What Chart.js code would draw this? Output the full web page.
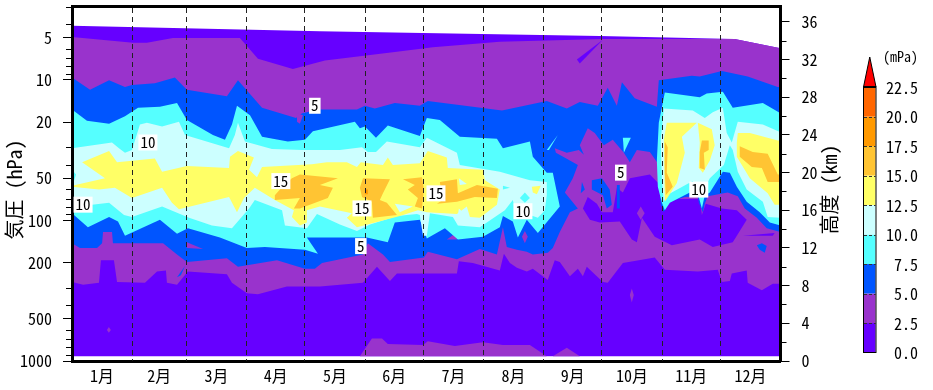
<!DOCTYPE html>
<html lang="ja"><head><meta charset="utf-8">
<style>html,body{margin:0;padding:0;background:#fff}canvas{display:block}</style>
<script src="https://cdn.jsdelivr.net/npm/chart.js@4"></script></head>
<body><canvas id="c" width="933" height="390"></canvas>
<script>
// values: every contour polygon is [day of year, height km]
const monthLabels=['1月','2月','3月','4月','5月','6月','7月','8月','9月','10月','11月','12月'];
const monthMiddles=[15.5,45,74.5,105,135.5,166,196.5,227.5,258,288.5,319,349.5];
const monthEnds=[31,59,90,120,151,181,212,243,273,304,334];
const pressureTicks=[1000,500,200,100,50,20,10,5];
const pressureMinor=[900,800,700,600,400,300,90,80,70,60,40,30,9,8,7,6,4,3];
const heightTicks=[0,4,8,12,16,20,24,28,32,36];
const heightMinor=[2,6,10,14,18,22,26,30,34];
const legendLevels=['0.0','2.5','5.0','7.5','10.0','12.5','15.0','17.5','20.0','22.5'];
const bandColors=['#6600ff','#9933cc','#0055ff','#55ffff','#ccffff','#ffff66','#ffc433','#ff9900','#ff6600'];
const overColor='#ff0000';
const labelDays=[125.1,39.1,107.6,5.7,149.4,148.8,187.5,232.3,282.7,322.9];
const labelKm=[27.1,23.2,19.1,16.6,16.2,12.2,17.8,15.9,20.0,18.2];
const labelText=['5','10','15','10','15','5','15','10','5','10'];

const base=[[0,35.6],[127.7,35],[271.9,34.5],[341.4,34.2],[365,33.2],[365,.5],[0,.5]];
const purpleMain=[[0,34.4],[31.4,33.8],[38.6,33.8],[52,34.3],[86.5,34.3],[95.8,32.1],[113.8,31],[130.3,31.9],[166.3,32.8],[185.9,33.3],[220.4,33.9],[273.5,34.2],[341.4,34.2],[365,33.2],[365,8.2],[361,8.2],[355.4,7.5],[348.1,8.3],[347.6,9.6],[339.9,9.3],[338.9,8.5],[334.8,8.4],[332.7,9.7],[322.4,9.5],[305.4,9.7],[300.2,11],[283.8,10.4],[276,8.3],[273.5,8.4],[265.2,10],[263.2,9],[260.6,9.8],[256.5,9],[251.3,10.5],[248.7,10.7],[245.1,8.6],[237.4,9.8],[234.3,9.5],[229.2,9.9],[225.6,10.4],[222.5,11.4],[220.4,9.6],[206.5,10.4],[199.3,10.6],[198.3,9.3],[167.4,9.3],[163.8,8.5],[157.1,10],[149.9,8.3],[127.7,7.9],[110.7,7.9],[95.8,7.1],[90.1,7.2],[82.4,8.3],[79.8,9.2],[59.7,9.5],[54.1,8.1],[48.9,8.3],[48.4,9.6],[43.8,9.5],[37.6,8.3],[23.2,8.4],[21.6,10.7],[14.9,10.7],[13.9,8.3],[5.7,8.1],[0,8.4]];
const purpleSurface=[[148.3,.5],[154.5,2.4],[159.7,2.4],[162.7,1.8],[180.8,1.7],[183.3,2.1],[197.2,1.6],[211.7,2],[222,1.7],[235.9,1.7],[244.6,.5]];
const purpleSurface2=[[247.7,.5],[254.9,1.4],[261.6,.5]];
const purpleDotJan=[[19,3.6],[20,3.3],[19,3],[18,3.3]];
const purpleDotOct=[[288.4,7.7],[289.4,7],[288.4,6.2],[287.4,7]];
const indigoSpike=[[273.5,34.1],[260.1,32],[261.6,31.6]];
const indigoAutumn=[[263.2,16.2],[265.7,17.4],[270.4,16.7],[273,15.8],[278.6,15.8],[280.7,18.4],[283.8,17.9],[287.4,19.4],[297.7,19.8],[303.9,18.5],[304.4,16.2],[309,17.2],[323.4,17.2],[324.5,15.5],[326.5,16.7],[334.8,16.2],[342.5,16],[347.6,15],[342.5,13.3],[340.4,12.6],[330.1,12.1],[323.4,12.9],[309,12.3],[300.2,13.2],[293.6,15.2],[291,12.6],[288.4,12.9],[282.2,14.8],[271.9,14.7],[266.8,15]];
const purpleDotAutumn=[[293,16.4],[295,15.7],[293,15],[291,15.7]];
const indigoSliver=[[345.6,13.3],[362,13.6],[361,13.3]];
const blueMain=[[0,30.1],[9.3,28.8],[19.1,29.8],[27.3,29.1],[30.9,29.3],[42.7,29.5],[53,30.1],[59.2,28.8],[79.8,28.1],[85.5,29.8],[97.9,26.9],[115.4,25.8],[118.5,26.3],[127.7,26.7],[146.8,26.7],[150.9,27.1],[156,26.8],[166.3,27.4],[179.2,27.1],[183.3,27.6],[206.5,27],[221.5,26.6],[244.6,27.6],[254.9,26.8],[261.6,27.5],[270.9,27.1],[276,29],[280.7,27.1],[283.3,29.6],[289.9,27.9],[301.3,27],[302.3,29.8],[319.3,30.3],[323.4,30.2],[334.8,30.8],[348.1,30.2],[363.6,29.1],[365,29.1],[365,13.7],[357.9,14.1],[352.8,15.2],[346.6,16.2],[343,17.5],[337.8,17.9],[327.5,17.5],[326,16.7],[325,15.8],[322.9,16.8],[322.4,17.5],[315.7,17.4],[308,16.9],[304.9,15.8],[303.3,16.6],[302.8,18.5],[303.9,19.8],[301.8,21],[297.7,22.2],[291,22.4],[287.4,21.1],[284.3,22.1],[278.6,23.5],[274,22.9],[269.3,24.2],[265.7,24.7],[261.6,22.9],[263.7,21.9],[261.1,22.4],[254.9,22.1],[248.7,22.6],[249.3,22.1],[256.5,21.3],[260.6,20.8],[258,19.4],[253.9,17.9],[260.6,16.2],[256.5,15.8],[251.3,13.7],[247.7,12],[245.1,11.5],[237.4,11.3],[234.3,11.6],[229.2,11.8],[224,12.1],[222,14.2],[218.9,11.3],[210.1,11.9],[198.3,10.8],[183.3,11.6],[181.3,11],[163.8,10.5],[160.2,11.3],[152.4,12.5],[149.9,11.3],[128.8,10.4],[125.1,9.8],[120,9.8],[105.6,10.7],[85.5,10],[79.8,10.9],[59.2,10.5],[54.1,11.3],[46.9,12.5],[21.1,12.5],[20.6,13.7],[16,13.7],[15.5,12.5],[12.9,12],[4.1,12],[0,12.5]];
const blueBlobSep=[[267.8,19.2],[273,19.4],[277,18.2],[278.1,16.6],[275.5,16.2],[273.5,17.6],[267.8,18.2]];
const blueDotSep=[[262.7,19],[264.2,18.2],[262.1,17.8]];
const blueStripOct=[[280.7,18.7],[282.2,18.7],[282.2,16.2],[280.7,16.2]];
const blueSliverFeb=[[54.1,8.9],[58.2,10.1],[56.1,9.1]];
const blueBlobDec=[[352.8,12.3],[355.4,12.5],[357.9,12.2],[356.9,11.5],[354.3,11.8]];
const purpleTailApr=[[115.9,26.3],[119,26.1],[117.4,25.2],[115.9,25.4]];
const purpleWedgeMar=[[59.2,12.6],[67.5,11.9],[59.2,12]];
const purpleWedgeJul=[[193.1,12.9],[197.8,13.6],[198.3,12.9]];
const purpleDotAug=[[233.3,13.8],[234.8,13.2],[233.3,12.5],[231.8,13.2]];
const cyanSliverSep=[[250.3,24],[244.6,22.4],[245.7,22.4]];
const cyanTriangleOct=[[283.8,23.7],[287.9,23.7],[284.3,22.1]];
const cyanMain=[[0,26.7],[7.7,25.5],[19.1,25.2],[27.3,26],[34,26.9],[45.3,27],[54.1,27.4],[59.2,25.6],[72.6,24],[78.8,23.5],[82.4,25.1],[85,27.1],[91.7,26.1],[97.9,23.8],[111.2,23.3],[120,23.5],[124.1,24.4],[145.7,25.4],[148.3,24.7],[150.9,24.9],[156.6,23.7],[162.7,25],[179.2,23.9],[182.8,25.8],[189.5,25.6],[199.8,23.8],[218.9,23.6],[222,22.6],[235.9,23.3],[237.4,21.7],[244.6,20],[247.7,20],[251.3,16.4],[240,13.6],[234.3,15],[229.7,13.1],[227.1,14.8],[222,15.4],[220.4,14.2],[211.7,13.2],[198.8,12.9],[192.1,14.1],[182.8,13],[179.2,15],[166.3,14.7],[162.7,12.6],[151.9,13.1],[127.7,13.1],[121,13.1],[126.7,11.4],[120,11.8],[99.4,12.1],[90.1,12],[76.2,13.1],[59.7,14.1],[54.1,13.5],[45.3,15],[27.3,13.3],[23.7,14.8],[19.1,15.3],[8.2,14.2],[0,15.7]];
const cyanAutumn=[[302.3,25.3],[305.4,28.5],[323.4,28],[327,28.4],[335.3,28.6],[340.4,26.9],[355.9,27.4],[365,26.3],[365,14.4],[359.5,14.7],[354.3,15.8],[347.6,16.9],[342.5,18.5],[338.9,20],[335.3,20.1],[328.6,17.9],[326,17.6],[324.5,16.2],[322.9,17.4],[318.3,17.9],[308,16.8],[305.4,16],[303.9,16.8],[301.8,18.5],[301.3,21.3]];
const paleMain=[[0,22.6],[20.6,23.2],[24.2,22.6],[27.3,22.1],[30.9,22.4],[35,25.1],[38.6,25.3],[46.4,24.9],[55.1,25.4],[58.2,24],[80.9,22.6],[83.9,24],[85.5,25.3],[89.1,23.3],[103,22.5],[118.5,22.4],[138,22.4],[149.4,22.7],[152.4,22.2],[156.6,22.2],[162.2,23.3],[179.2,22.7],[182.8,23.7],[198.3,22.1],[199.8,20.8],[220.4,20.1],[235.9,19.2],[244.6,19],[244.6,17.6],[243.6,16],[240,15.2],[235.9,15.5],[233.3,16.6],[231.8,15.2],[229.2,15.2],[227.1,17.1],[223,16],[219.4,15.5],[210.1,14.2],[198.8,14.4],[196.2,15.3],[184.4,15.7],[182.8,13.3],[180.8,13.3],[179.2,15.5],[177.7,15.6],[167.4,15.4],[153.5,14.5],[146.8,13.8],[138,14.5],[126.2,15.6],[121,14.1],[109.7,14.4],[108.2,16],[94.2,17.1],[91.2,16.2],[82.4,14.1],[72.1,14.4],[60.3,15.2],[46.4,16.4],[30.9,15.3],[26.8,15.5],[19.1,16.8],[10.3,16.6],[0,15.7]];
const paleAutumn=[[304.9,26.8],[319.8,26.6],[326,25.8],[330.1,26.4],[335.3,26.9],[337.3,24.2],[339.9,23.2],[343,25.4],[355.9,25.1],[365,24.3],[365,15.2],[358.4,15.3],[355.9,16.9],[347.6,18.2],[343,20.1],[340.4,22.4],[338.9,22.9],[335.8,20.8],[328.6,19.4],[326,18.4],[323.4,17.6],[319.8,19.1],[306.4,17.6],[304.9,16.9],[303.9,19.2],[303.3,23.5]];
const cyanDotJan=[[0,20.3],[2.1,19.8],[0,18.5]];
const cyanDotAug1=[[222,18.6],[225.6,18.4],[222,18.2]];
const cyanDotAug2=[[233.3,17.9],[235.9,17.3],[233.3,16.8],[230.7,17.3]];
const yellowMain=[[5.2,21.1],[19.1,22.3],[23.2,21.1],[42.7,21.5],[46.4,20.1],[59.2,20.7],[80.9,20.5],[81.4,21.7],[85.5,22.3],[93.7,21.6],[91.2,20.3],[95.3,19.5],[97.9,20.6],[123.6,20.9],[131.3,21.1],[141.6,21.1],[146.8,20.6],[148.8,21.1],[160.2,20.8],[162.7,21.6],[165.3,20.8],[179.2,21],[183.3,22.3],[193.1,21.6],[193.6,20.5],[211.7,20.3],[212.7,19.2],[220.4,18.2],[218.9,16.6],[210.1,15.2],[205,15.3],[203.4,16.4],[198.3,15.6],[182.8,15.8],[178.2,16],[168.9,15.4],[146.8,14.2],[141.6,15.2],[144.2,15.7],[127.7,16.4],[121,16],[121,14.7],[117.4,14.4],[113.3,15.3],[114.3,16],[104.5,17.1],[94.2,18.4],[88.6,17.3],[85,15.8],[80.9,17.4],[55.1,16.1],[51.5,16.8],[46.4,18.4],[30.9,17.3],[22.1,18.4],[13.9,18.2],[0,18.5],[0,18.6],[17,19.4]];
const paleHole1=[[199.3,19.4],[203.4,18.8],[199.8,18.7]];
const paleHole2=[[199.3,16.2],[201.4,15.8],[200.3,15.2],[198.8,15.5]];
const paleHole3=[[166.3,16.7],[175.6,16.4],[168.9,15.8]];
const yellowAug=[[236.9,18.5],[241.5,18.6],[239.5,17.7],[237.4,17.9]];
const yellowNovA=[[306.4,25.3],[321.9,25.3],[314.2,23.8],[315.7,22.1],[311.6,18.9],[305.4,16.9],[304.9,23.5]];
const yellowNovB=[[322.4,25.3],[329.6,24.6],[331.1,22.9],[328.6,21.3],[325,20],[322.9,20.5],[323.4,23.2]];
const yellowDec=[[343,24.2],[349.2,24.2],[363.6,23.4],[365,23.4],[365,16.6],[362,16.6],[358.4,17.8],[349.2,19.4],[342.5,21.7],[342.5,23.2]];
const amberApr=[[104.5,17.6],[109.2,18.7],[113.3,19.4],[117.4,19.8],[137,19.4],[127.7,18.7],[134.4,18.4],[131.8,17.3],[117.4,16.2],[114.3,16.2],[117.4,17.3],[104.5,17.1]];
const amberJun=[[149.9,19.4],[163.8,19.3],[160.2,17.8],[158.6,17.1],[162.2,16.8],[167.4,15.5],[155,15.2],[154.5,16.9],[149.4,17.4],[148.3,18.4]];
const amberJul1=[[170.5,19.3],[180.3,19.5],[181.3,18.2],[180.3,16.2],[176.6,16.4],[178.2,17.3],[173,18.2],[176.6,18.7]];
const amberJul2=[[189.5,19],[198.3,19.3],[198.8,17.8],[208.6,18.7],[219.4,18.3],[218.9,17.3],[207.5,17.4],[198.3,16.9],[188,16.7],[191,17.1]];
const amberNovA=[[305.4,23.3],[306.9,22.7],[306.4,20],[309.5,18.5],[305.9,17.6],[305.4,20]];
const amberNovB=[[324.5,23.4],[328,23.4],[328,22.4],[325.5,22.1],[326,20.3],[323.4,20.5],[323.4,22.2]];
const amberDec=[[344,22.8],[350.7,22.2],[358.4,22],[363.6,19.8],[365,19.8],[365,19],[358.4,19],[355.4,20.5],[350.2,20.6],[344,21.7]];
const orangeDotJun=[[150.9,18.2],[152.4,18.2],[152.4,17.7],[150.9,17.7]];
const axisTitles=['気圧 (hPa)','高度 (km)'];
const barTitle='(mPa)';

// painter's order: each entry is [polygon, band index]
const paintOrder=[[base,0],[purpleMain,1],[purpleSurface,1],[purpleSurface2,1],[purpleDotJan,1],[purpleDotOct,1],[indigoSpike,0],[indigoAutumn,0],[purpleDotAutumn,1],[indigoSliver,0],
[blueMain,2],[blueBlobSep,2],[blueDotSep,2],[blueStripOct,2],[blueSliverFeb,2],[blueBlobDec,2],[purpleTailApr,1],[purpleWedgeMar,1],[purpleWedgeJul,1],[purpleDotAug,1],
[cyanSliverSep,3],[cyanTriangleOct,3],[cyanMain,3],[cyanAutumn,3],[paleMain,4],[paleAutumn,4],[cyanDotJan,3],[cyanDotAug1,3],[cyanDotAug2,3],
[yellowMain,5],[paleHole1,4],[paleHole2,4],[paleHole3,4],[yellowAug,5],[yellowNovA,5],[yellowNovB,5],[yellowDec,5],
[amberApr,6],[amberJun,6],[amberJul1,6],[amberJul2,6],[amberNovA,6],[amberNovB,6],[amberDec,6],[orangeDotJun,7]];

const FONT="'Noto Sans Mono CJK JP','Noto Sans CJK JP',sans-serif";
const TICK={family:FONT,size:16};
const datasets=paintOrder.map(([poly,band],i)=>({
  data:poly.map(([x,y])=>({x,y})),xAxisID:'x',yAxisID:'km',
  order:paintOrder.length-i,fill:'shape',backgroundColor:bandColors[band],
  borderWidth:0,pointRadius:0,tension:0,spanGaps:true
}));

const noPad=s=>{s.paddingTop=0;s.paddingBottom=0;s.paddingLeft=0;s.paddingRight=0;};
const overlay={id:'overlay',afterDraw(chart){
  const {ctx,scales:{x,p,km}}=chart;
  ctx.save();
  // minor tick marks
  ctx.strokeStyle='#000';ctx.lineWidth=1;ctx.beginPath();
  pressureMinor.forEach(v=>{const y=Math.round(p.getPixelForValue(v))+.5;ctx.moveTo(p.right-1,y);ctx.lineTo(p.right-6,y);});
  heightMinor.forEach(v=>{const y=Math.round(km.getPixelForValue(v))+.5;ctx.moveTo(km.left+1,y);ctx.lineTo(km.left+6,y);});
  ctx.stroke();
  // rotated axis titles, both reading upward
  ctx.fillStyle='#000';ctx.font="20px "+FONT;ctx.textAlign='center';ctx.textBaseline='middle';
  [[14.5,axisTitles[0]],[829,axisTitles[1]]].forEach(([tx,t])=>{ctx.save();ctx.translate(tx,189.5);ctx.rotate(-Math.PI/2);ctx.fillText(t,0,0);ctx.restore();});
  // contour labels
  ctx.font="15px "+FONT;
  labelText.forEach((t,i)=>{const px=x.getPixelForValue(labelDays[i]),py=km.getPixelForValue(labelKm[i]);
    const w=t.length*7.5+4;ctx.fillStyle='#fff';ctx.fillRect(px-w/2,py-8,w,16);ctx.fillStyle='#000';ctx.fillText(t,px,py);});
  // colour bar
  const L=864,W=11.5,B=352.5,S=29.5,top=B-S*bandColors.length;
  bandColors.forEach((c,i)=>{ctx.fillStyle=c;ctx.fillRect(L,B-S*(i+1),W,S);});
  ctx.strokeStyle='#333';ctx.setLineDash([3,2]);ctx.beginPath();
  for(let i=1;i<bandColors.length;i++){const y=Math.round(B-S*i)+.5;ctx.moveTo(L,y);ctx.lineTo(L+W,y);}
  ctx.stroke();ctx.setLineDash([]);
  ctx.strokeStyle='#000';ctx.lineWidth=1;ctx.strokeRect(L-.5,top,W+1,B-top);
  ctx.beginPath();ctx.moveTo(L-.5,top);ctx.lineTo(L+W/2,57);ctx.lineTo(L+W+.5,top);ctx.closePath();
  ctx.fillStyle=overColor;ctx.fill();ctx.stroke();
  ctx.lineWidth=2;ctx.beginPath();ctx.moveTo(L-.5,top);ctx.lineTo(L+W+.5,top);ctx.stroke();
  ctx.fillStyle='#000';ctx.font="16px "+FONT;ctx.textAlign='right';
  legendLevels.forEach((t,i)=>ctx.fillText(t,918,B-S*i+.5));
  ctx.font="14px "+FONT;ctx.fillText(barTitle,918,57);
  ctx.restore();
}};

new Chart(document.getElementById('c'),{
  type:'line',
  data:{datasets},
  plugins:[overlay],
  options:{
    responsive:false,animation:false,devicePixelRatio:1,
    layout:{autoPadding:false,padding:{left:0,right:92,top:0,bottom:0}},
    plugins:{legend:{display:false},tooltip:{enabled:false},title:{display:false}},
    scales:{
      x:{type:'linear',position:'bottom',min:0,max:365,
        afterBuildTicks:s=>{s.ticks=monthMiddles.map(value=>({value}));},
        afterFit:s=>{s.height=29;noPad(s);},
        grid:{display:false,drawTicks:false},
        border:{display:true,width:3,color:'#000',z:1},
        ticks:{autoSkip:false,maxRotation:0,padding:5,color:'#000',font:TICK,callback:(v,i)=>monthLabels[i]}},
      xTop:{type:'linear',position:'top',min:0,max:365,
        afterBuildTicks:s=>{s.ticks=monthEnds.map(value=>({value}));},
        afterFit:s=>{s.height=6.5;noPad(s);},
        grid:{display:true,z:1,drawTicks:false,color:'#222',lineWidth:1},
        border:{display:true,width:3,color:'#000',z:1,dash:[5,4]},
        ticks:{display:false}},
      p:{type:'logarithmic',position:'left',reverse:true,min:3,max:1000,
        afterBuildTicks:s=>{s.ticks=pressureTicks.map(value=>({value}));},
        afterFit:s=>{s.width=72;noPad(s);},
        grid:{display:true,drawOnChartArea:false,tickLength:9,tickColor:'#000',tickWidth:1},
        border:{display:true,width:3,color:'#000',z:1},
        ticks:{autoSkip:false,color:'#000',font:TICK,padding:11,callback:v=>String(v)}},
      km:{type:'linear',position:'right',min:0,max:37.64,
        afterBuildTicks:s=>{s.ticks=heightTicks.map(value=>({value}));},
        afterFit:s=>{s.width=60.5;noPad(s);},
        grid:{display:true,drawOnChartArea:false,tickLength:9,tickColor:'#000',tickWidth:1},
        border:{display:true,width:3,color:'#000',z:1},
        ticks:{autoSkip:false,color:'#000',font:TICK,padding:12,callback:v=>String(v)}}
    }
  }
});
</script></body></html>
